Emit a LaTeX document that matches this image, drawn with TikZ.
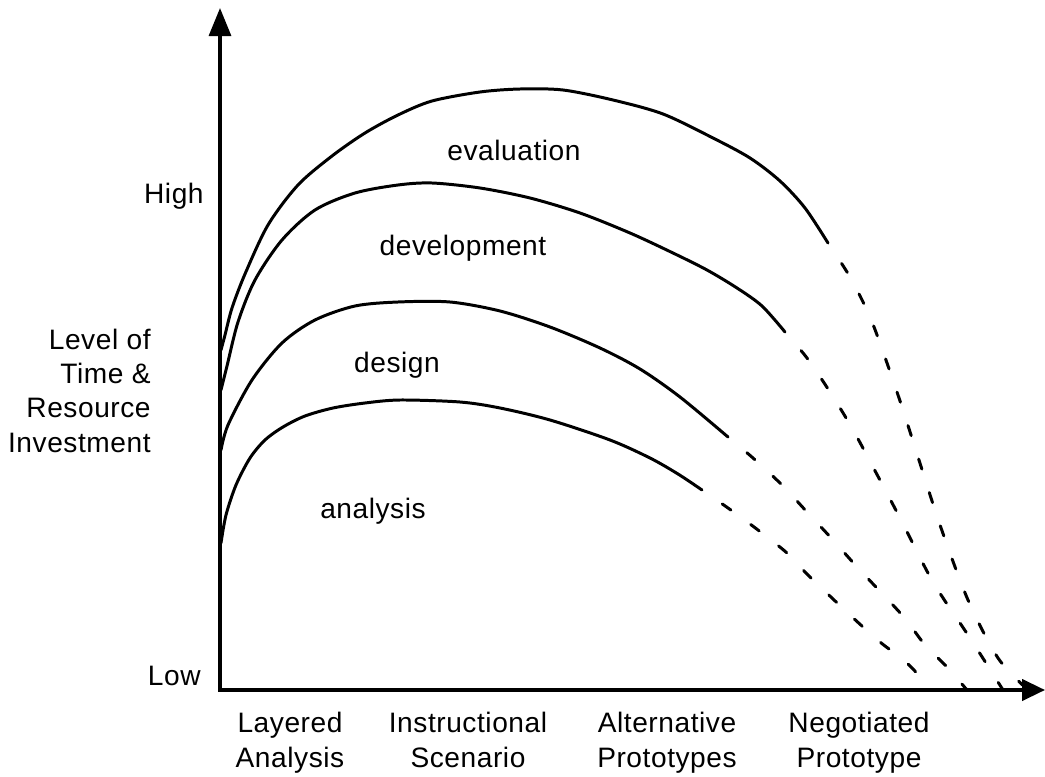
\documentclass[tikz,border=0pt]{standalone}
\usepackage{fontspec}
\setmainfont{Liberation Sans}[LetterSpace=2]
\usetikzlibrary{arrows.meta}

\begin{document}
\begin{tikzpicture}[x=0.02cm, y=-0.02cm,
        curve/.style={line width=1.7pt, line cap=round},
        tail/.style={curve, dash pattern=on 6pt off 14pt, dash phase=6pt},
        lbl/.style={font=\fontsize{16}{19.5}\selectfont, inner sep=0pt, anchor=base}]
        \useasboundingbox (0,0) rectangle (1045,777);

        % axes
        \coordinate (top) at (220,8);
        \coordinate (origin) at (220,690);
        \coordinate (right) at (1045,690);
        \draw[line width=2pt, {Triangle[length=16pt,width=12.5pt]}-{Triangle[length=13pt,width=12pt]}] (top) -- (origin) -- (right);

        % phase curves, solid part then dashed tail
        \draw[curve] plot[smooth, tension=0.5] coordinates {(221,350) (225,335) (232,308) (245,274) (268,225) (298,185) (332,156) (365,133) (398,115) (432,101) (480,92) (520,89) (563,90) (613,100) (663,114) (713,138) (750,158) (780,181) (805,208) (828,243)};
        \draw[tail] plot[smooth, tension=0.5] coordinates {(828,243) (850,277) (870,317) (887,363) (903,410) (918,457) (940,525) (968,600) (998,658) (1028,690)};

        \draw[curve] plot[smooth, tension=0.5] coordinates {(221,390) (227,366) (238,322) (255,280) (282,240) (315,210) (355,193) (398,185) (432,183) (480,188) (530,198) (580,213) (630,233) (673,253) (707,270) (737,288) (762,306) (785,332)};
        \draw[tail] plot[smooth, tension=0.5] coordinates {(785,332) (807,358) (830,392) (852,428) (873,467) (900,518) (933,582) (970,638) (1003,690)};

        \draw[curve] plot[smooth, tension=0.5] coordinates {(221,450) (228,425) (252,380) (282,343) (315,320) (355,306) (398,302) (450,302) (500,311) (550,327) (600,348) (640,369) (680,397) (728,437)};
        \draw[tail] plot[smooth, tension=0.5] coordinates {(728,437) (753,458) (782,485) (807,512) (833,540) (858,568) (902,615) (925,645) (947,667) (967,690)};

        \draw[curve] plot[smooth, tension=0.5] coordinates {(221,543) (226,515) (236,485) (250,458) (265,440) (283,427) (305,416) (333,408) (365,403) (400,400) (460,402) (500,408) (550,420) (610,440) (650,458) (678,474) (702,490)};
        \draw[tail] plot[smooth, tension=0.5] coordinates {(702,490) (728,508) (758,530) (787,553) (808,575) (850,615) (880,642) (907,663) (932,690)};

        % labels
        \node[lbl] (eval) at (514,160) {evaluation};
        \node[lbl] (dev) at (463,255) {development};
        \node[lbl] (des) at (397,372) {design};
        \node[lbl] (ana) at (373,518) {analysis};

        \node[lbl, anchor=base east] (high) at (204,203) {High};
        \node[lbl, anchor=base east] (low) at (201,685) {Low};
        \node[lbl, anchor=base east, align=right] (level) at (151,452) {Level of\\Time \&\\Resource\\Investment};

        \node[lbl, align=center] (layered) at (290,767) {Layered\\Analysis};
        \node[lbl, align=center] (scenario) at (468,767) {Instructional\\Scenario};
        \node[lbl, align=center] (alt) at (667,767) {Alternative\\Prototypes};
        \node[lbl, align=center] (nego) at (859,767) {Negotiated\\Prototype};
\end{tikzpicture}
\end{document}
